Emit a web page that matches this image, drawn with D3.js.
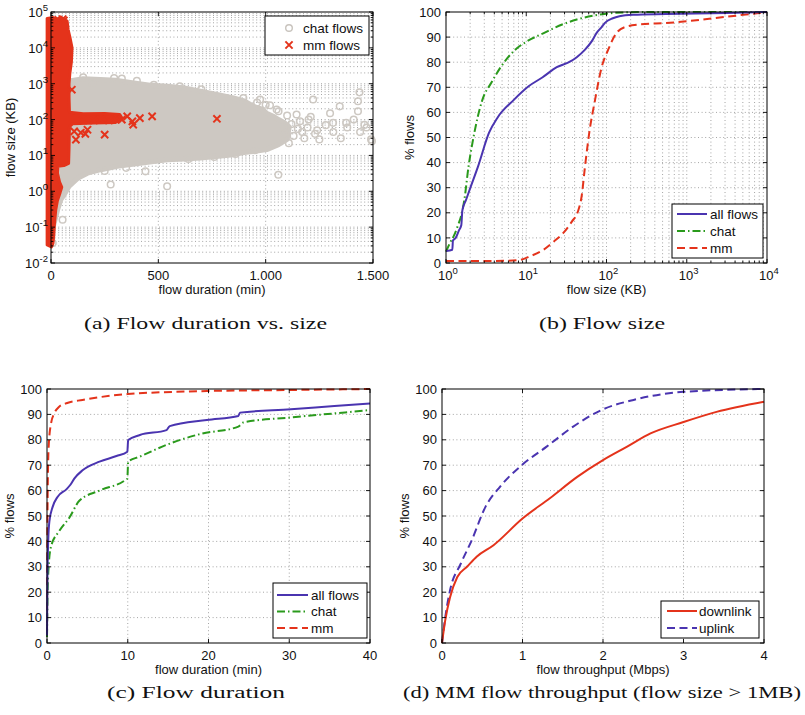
<!DOCTYPE html>
<html><head><meta charset="utf-8">
<script src="https://cdn.jsdelivr.net/npm/d3@7"></script>
<style>body{margin:0;background:#fff}svg{display:block}</style>
</head><body>
<svg id="chart" width="805" height="715"></svg>
<script>
// ---------- DATA ----------
// (a) scatter: flow duration (min) vs flow size (KB)
// dense region outlines (duration, size)
const chatCloudDur  = [85,150,230,300,386,470,541,620,696,773,850,900,943,980,1005,1040,1060,1090,1110,1100,1060,1005,950,900,850,780,696,620,541,433,309,232,170,124,85,62,46,31,23,10,0];
const chatCloudSize = [1200,1380,1320,1250,1050,900,850,760,620,500,400,330,235,200,150,120,100,80,63,28,20,14.5,13,12,10.5,9.5,8.5,8,7.6,6.2,5,4,3.2,2.3,1.4,0.81,0.59,0.31,0.2,0.1,0.05];
const mmBandDur  = [-18,-18,10,30,45,60,75,80,88,98,95,88,84,84,86,150,250,320,330,300,200,100,86,84,82,60,32,30,40,50,42,30,22,16,13,9,2,-18];
const mmBandSize = [0.032,66000,70000,63000,72000,63000,56000,32000,20000,10000,4000,2000,1000,400,160,145,148,138,112,83,80,76,63,16,6,5.2,5,3.2,1.8,1.3,0.9,0.55,0.3,0.12,0.06,0.035,0.028,0.032];
const chatPtDur  = [440,278,541,1059,54,8,294,479,193,1437,1430,1430,1345,1221,1144,1314,1375,1460,1491,1240,1315,1195,1170,1250,896,974,1051,1082,1108,1410,1380,1440,1470,1280,1200,1160,1130,1230,1350,1100,1020,960,1300,700,600,400,330,150,640,760,860,950,350,250,1000,1495,1120,1150,1180,1090,1060,1210];
const chatPtSize = [3.6,1.55,1.38,2.9,0.16,0.036,1450,930,1050,575,324,170,234,363,138,81,81,71,28,50,45,60,45,28,400,363,190,60,22,100,60,45,60,70,100,90,35,40,30,130,250,300,150,700,850,1200,1400,1500,8,9,11,14,4.5,3.7,260,25,75,55,30,40,170,120];
const mmPtDur  = [97,54,35,60,309,355,414,471,383,379,773,250,116,139,170,160,108,300,270,330,200,230,150];
const mmPtSize = [680,63000,60000,58000,110,123,110,123,72,89,105,38,27.5,43,52,40,47,100,95,100,95,100,95];
const aXTicks = [0,500,1000,1500];
const aXTickLabels = ["0","500","1.000","1.500"];
const aYExponents = [-2,-1,0,1,2,3,4,5];

// (b) CDF of flow size (KB)
const sizeAllX  = [1,1.2,1.22,1.32,1.45,1.55,1.6,1.77,2.04,2.51,3.44,4.4,7,10.7,16,24,35.5,42.6,54,66,75,87,95,120,145,214,550,3160,10000];
const sizeAllY  = [4.8,5.3,9,10,13,15,21,25,30.5,38.5,51.9,58,65,70.4,74,78,80.3,82,85,88.5,91.6,94,95.6,97.5,98.3,98.9,99.2,99.6,100];
const sizeChatX = [1,1.12,1.26,1.41,1.55,1.69,1.91,2.14,2.84,3.7,4.8,7.3,10.2,16.5,28,42.6,83,120,316,10000];
const sizeChatY = [4.5,8,11,15,19,25,38.5,48,65,72,78,85,88.3,91.6,95,97,99,99.6,100,100];
const sizeMmX   = [1,3,6,8.5,11.2,16.5,22,29,37,44,49,54,61,72,87,105,133,170,257,550,1000,2290,10000];
const sizeMmY   = [0.8,0.8,0.9,1.3,2.7,5.3,8.5,12,16.5,20.5,26.6,38.5,51.9,65,78,85,91.6,94,95,95.6,96.3,97.6,100];
const bXExponents = [0,1,2,3,4];
const pctTicks = [0,10,20,30,40,50,60,70,80,90,100];
const pctTickLabels = ["0","10","20","30","40","50","60","70","80","90","100"];

// (c) CDF of flow duration (min)
const durAllX  = [0,0.05,0.15,0.3,0.7,1.3,2.4,2.9,3.4,4.4,6.5,8.6,9.95,10.05,11.5,14.8,15.2,19.8,23.7,23.9,30.2,35.6,40];
const durAllY  = [3,25,40,48,53.6,57.5,60.5,62.3,64.8,68,71.4,73.6,75.3,79.9,81.9,83.8,85.4,87.8,89.4,90.7,92,93.3,94.3];
const durChatX = [0,0.05,0.2,0.5,1.5,2.8,4,6.5,9.95,10.05,11.5,14.8,19,23.7,24.3,30.2,35.6,40];
const durChatY = [2.4,15,30,38,44,49.5,56,60,64.8,71.4,73.4,78,82.3,85.2,86.8,88.8,90.4,91.7];
const durMmX   = [0,0.04,0.08,0.2,0.5,0.9,1.5,2.5,4.4,10,19.8,30,40];
const durMmY   = [3,40,57.5,77,86.5,90.4,93,94.5,95.7,98,99.2,99.6,100];
const cXTicks = [0,10,20,30,40];

// (d) CDF of MM flow throughput (Mbps)
const tpDownX = [0,0.04,0.1,0.19,0.31,0.43,0.64,1.0,1.34,1.68,2.0,2.3,2.59,3.0,3.41,4.0];
const tpDownY = [0,8.9,18,26,30,34,38.5,49,57,65.4,72,77.3,82.5,87,91,95];
const tpUpX   = [0,0.04,0.1,0.23,0.37,0.54,0.72,0.99,1.3,1.63,2.0,2.38,3.0,4.0];
const tpUpY   = [0,10,20.8,31,40.5,53.6,61.5,70,77.3,85.2,92,95.7,98.9,100];
const dXTicks = [0,1,2,3,4];
const dYTickLabels = ["0","10","20","30","40","50","60","70","90","90","100"];

const captions = ["(a)  Flow duration vs. size","(b)  Flow size","(c)  Flow duration","(d)  MM flow throughput (flow size > 1MB)"];

// ---------- STYLE ----------
const svg = d3.select('#chart');
const F = "'Liberation Sans', Arial, Helvetica, sans-serif";
const SERIF = "'Liberation Serif', 'DejaVu Serif', serif";
const GRID = '#8e8e8e';
const C_BLUE = '#4a34b0', C_GREEN = '#2a9a1c', C_RED = '#e4331b', C_GRAY = '#cdc8c2';

const P = {
  a:{l:51,r:373,t:12,b:263},
  b:{l:446,r:767,t:12,b:263},
  c:{l:47,r:370,t:389,b:643},
  d:{l:442,r:764,t:389,b:643}
};

function grid(g,p,xs,ys,xv,yv){
  g.append('g').selectAll('line').data(xv).join('line')
    .attr('x1',d=>xs(d)).attr('x2',d=>xs(d)).attr('y1',p.t).attr('y2',p.b)
    .attr('stroke',GRID).attr('stroke-width',0.8).attr('stroke-dasharray','1,2.6');
  g.append('g').selectAll('line').data(yv).join('line')
    .attr('y1',d=>ys(d)).attr('y2',d=>ys(d)).attr('x1',p.l).attr('x2',p.r)
    .attr('stroke',GRID).attr('stroke-width',0.8).attr('stroke-dasharray','1,2.6');
}
function frame(g,p,xs,ys,xMaj,yMaj,xMin,yMin){
  const L=4,l=2.3;
  const tg=g.append('g').attr('stroke','#000').attr('stroke-width',0.9);
  const add=(x1,y1,x2,y2)=>tg.append('line').attr('x1',x1).attr('y1',y1).attr('x2',x2).attr('y2',y2);
  xMaj.forEach(v=>{const x=xs(v);add(x,p.b,x,p.b-L);add(x,p.t,x,p.t+L);});
  yMaj.forEach(v=>{const y=ys(v);add(p.l,y,p.l+L,y);add(p.r,y,p.r-L,y);});
  (xMin||[]).forEach(v=>{const x=xs(v);add(x,p.b,x,p.b-l);add(x,p.t,x,p.t+l);});
  (yMin||[]).forEach(v=>{const y=ys(v);add(p.l,y,p.l+l,y);add(p.r,y,p.r-l,y);});
  g.append('rect').attr('x',p.l).attr('y',p.t).attr('width',p.r-p.l).attr('height',p.b-p.t)
    .attr('fill','none').attr('stroke','#000').attr('stroke-width',1);
}
function yLabels(g,p,ys,vals,labels){
  g.append('g').selectAll('text').data(vals).join('text')
    .attr('x',p.l-5).attr('y',d=>ys(d)).attr('dy','0.36em').attr('text-anchor','end')
    .attr('font-family',F).attr('font-size',13).attr('fill','#111').text((d,i)=>labels[i]);
}
function xLabels(g,p,xs,vals,labels){
  g.append('g').selectAll('text').data(vals).join('text')
    .attr('x',d=>xs(d)).attr('y',p.b+17).attr('text-anchor','middle')
    .attr('font-family',F).attr('font-size',13).attr('fill','#111').text((d,i)=>labels[i]);
}
function powLabel(g,x,y,exp,anchor){
  const t=g.append('text').attr('x',x).attr('y',y).attr('text-anchor',anchor)
    .attr('font-family',F).attr('font-size',13).attr('fill','#111');
  t.append('tspan').text('10');
  t.append('tspan').attr('dy',-6).attr('font-size',9.5).text(exp);
}
function titles(g,p,xt,yt,ytx){
  g.append('text').attr('x',(p.l+p.r)/2).attr('y',p.b+31).attr('text-anchor','middle')
    .attr('font-family',F).attr('font-size',13).attr('fill','#111').text(xt);
  g.append('text').attr('transform',`translate(${ytx},${(p.t+p.b)/2}) rotate(-90)`)
    .attr('text-anchor','middle').attr('font-family',F).attr('font-size',13).attr('fill','#111').text(yt);
}
function legend(g,box,items){
  g.append('rect').attr('x',box.x).attr('y',box.y).attr('width',box.w).attr('height',box.h)
    .attr('fill','#fff').attr('stroke','#000').attr('stroke-width',1);
  items.forEach((it,i)=>{
    const y=box.y0+i*box.dy;
    if(it.kind==='line'){
      g.append('line').attr('x1',box.lx1).attr('x2',box.lx2).attr('y1',y).attr('y2',y)
        .attr('stroke',it.color).attr('stroke-width',2).attr('stroke-dasharray',it.dash||null);
    } else if(it.kind==='circle'){
      g.append('circle').attr('cx',box.mx).attr('cy',y).attr('r',3.3).attr('fill','none')
        .attr('stroke',it.color).attr('stroke-width',1.4);
    } else {
      const s=3.6;
      g.append('path').attr('d',`M${box.mx-s},${y-s}L${box.mx+s},${y+s}M${box.mx-s},${y+s}L${box.mx+s},${y-s}`)
        .attr('stroke',it.color).attr('stroke-width',2);
    }
    g.append('text').attr('x',box.tx).attr('y',y).attr('dy','0.36em').attr('font-family',F)
      .attr('font-size',13.5).attr('fill','#111').text(it.label);
  });
}
function curve(g,xs,ys,X,Y,color,dash){
  const pts=X.map((x,i)=>[xs(x),ys(Y[i])]);
  g.append('path').attr('d',d3.line().curve(d3.curveMonotoneX)(pts))
    .attr('fill','none').attr('stroke',color).attr('stroke-width',2)
    .attr('stroke-dasharray',dash||null).attr('stroke-linejoin','round');
}
function minorLog(e0,e1){const r=[];for(let e=e0;e<e1;e++)for(let k=2;k<=9;k++)r.push(k*Math.pow(10,e));return r;}

// ---------- (a) ----------
{
  const p=P.a, g=svg.append('g');
  const xs=d3.scaleLinear().domain([0,1500]).range([p.l,p.r]);
  const ys=d3.scaleLog().domain([1e-2,1e5]).range([p.b,p.t]);
  const yMaj=aYExponents.map(e=>Math.pow(10,e));
  const yMin=minorLog(-2,5);
  grid(g,p,xs,ys,[500,1000],yMaj.slice(1,-1).concat(yMin));
  // chat cloud
  const cloud=chatCloudDur.map((d,i)=>[xs(d),ys(chatCloudSize[i])]);
  g.append('path').attr('d',d3.line()(cloud)+'Z')
    .attr('fill',C_GRAY).attr('stroke',C_GRAY).attr('stroke-width',5).attr('stroke-linejoin','round');
  g.append('g').selectAll('circle').data(chatPtDur).join('circle')
    .attr('cx',d=>xs(d)).attr('cy',(d,i)=>ys(chatPtSize[i])).attr('r',3.3)
    .attr('fill','none').attr('stroke',C_GRAY).attr('stroke-width',1.5);
  // mm band
  const band=mmBandDur.map((d,i)=>[xs(d),ys(mmBandSize[i])]);
  g.append('path').attr('d',d3.line()(band)+'Z')
    .attr('fill',C_RED).attr('stroke',C_RED).attr('stroke-width',3).attr('stroke-linejoin','round');
  const s=3.6;
  g.append('g').selectAll('path').data(mmPtDur).join('path')
    .attr('d',(d,i)=>{const x=xs(d),y=ys(mmPtSize[i]);return `M${x-s},${y-s}L${x+s},${y+s}M${x-s},${y+s}L${x+s},${y-s}`;})
    .attr('stroke',C_RED).attr('stroke-width',2);
  frame(g,p,xs,ys,aXTicks,yMaj,null,yMin);
  xLabels(g,p,xs,aXTicks,aXTickLabels);
  aYExponents.forEach(e=>powLabel(g,p.l-3,ys(Math.pow(10,e))+5,String(e),'end'));
  titles(g,p,'flow duration (min)','flow size (KB)',15);
  legend(g,{x:265,y:16,w:104,h:39,y0:28,dy:17,mx:289,tx:303},
    [{kind:'circle',color:'#c8c3bd',label:'chat flows'},{kind:'x',color:C_RED,label:'mm flows'}]);
}

// ---------- (b) ----------
{
  const p=P.b, g=svg.append('g');
  const xs=d3.scaleLog().domain([1,1e4]).range([p.l,p.r]);
  const ys=d3.scaleLinear().domain([0,100]).range([p.b,p.t]);
  const xMaj=bXExponents.map(e=>Math.pow(10,e));
  const xMin=minorLog(0,4);
  grid(g,p,xs,ys,xMaj.slice(1,-1).concat(xMin),pctTicks.slice(1,-1));
  curve(g,xs,ys,sizeMmX,sizeMmY,C_RED,'8,4.5');
  curve(g,xs,ys,sizeChatX,sizeChatY,C_GREEN,'8,3,1.5,3');
  curve(g,xs,ys,sizeAllX,sizeAllY,C_BLUE);
  frame(g,p,xs,ys,xMaj,pctTicks,xMin,null);
  yLabels(g,p,ys,pctTicks,pctTickLabels);
  bXExponents.forEach(e=>powLabel(g,xs(Math.pow(10,e))+2,p.b+16.5,String(e),'middle'));
  titles(g,p,'flow size (KB)','% flows',414);
  legend(g,{x:672,y:204,w:91,h:54,y0:214,dy:17,lx1:677,lx2:707,tx:710},
    [{kind:'line',color:C_BLUE,label:'all flows'},{kind:'line',color:C_GREEN,dash:'8,3,1.5,3',label:'chat'},{kind:'line',color:C_RED,dash:'8,4.5',label:'mm'}]);
}

// ---------- (c) ----------
{
  const p=P.c, g=svg.append('g');
  const xs=d3.scaleLinear().domain([0,40]).range([p.l,p.r]);
  const ys=d3.scaleLinear().domain([0,100]).range([p.b,p.t]);
  grid(g,p,xs,ys,cXTicks.slice(1,-1),pctTicks.slice(1,-1));
  curve(g,xs,ys,durMmX,durMmY,C_RED,'8,4.5');
  curve(g,xs,ys,durChatX,durChatY,C_GREEN,'8,3,1.5,3');
  curve(g,xs,ys,durAllX,durAllY,C_BLUE);
  frame(g,p,xs,ys,cXTicks,pctTicks);
  yLabels(g,p,ys,pctTicks,pctTickLabels);
  xLabels(g,p,xs,cXTicks,cXTicks.map(String));
  titles(g,p,'flow duration (min)','% flows',14);
  legend(g,{x:273,y:583,w:94,h:55,y0:595,dy:16.5,lx1:277,lx2:308,tx:311},
    [{kind:'line',color:C_BLUE,label:'all flows'},{kind:'line',color:C_GREEN,dash:'8,3,1.5,3',label:'chat'},{kind:'line',color:C_RED,dash:'8,4.5',label:'mm'}]);
}

// ---------- (d) ----------
{
  const p=P.d, g=svg.append('g');
  const xs=d3.scaleLinear().domain([0,4]).range([p.l,p.r]);
  const ys=d3.scaleLinear().domain([0,100]).range([p.b,p.t]);
  grid(g,p,xs,ys,dXTicks.slice(1,-1),pctTicks.slice(1,-1));
  curve(g,xs,ys,tpUpX,tpUpY,C_BLUE,'8,4.5');
  curve(g,xs,ys,tpDownX,tpDownY,C_RED);
  frame(g,p,xs,ys,dXTicks,pctTicks);
  yLabels(g,p,ys,pctTicks,dYTickLabels);
  xLabels(g,p,xs,dXTicks,dXTicks.map(String));
  titles(g,p,'flow throughput (Mbps)','% flows',409);
  legend(g,{x:661,y:601,w:98,h:37,y0:611,dy:17,lx1:667,lx2:697,tx:699},
    [{kind:'line',color:C_RED,label:'downlink'},{kind:'line',color:C_BLUE,dash:'8,4.5',label:'uplink'}]);
}

// ---------- captions ----------
const capPos = [[84,327,329],[539,665,329],[107,285,698],[403,801,698]];
captions.forEach((c,i)=>{
  const [x0,x1,y]=capPos[i];
  svg.append('text').attr('x',x0).attr('y',y).attr('font-family',SERIF).attr('font-size',17.5)
    .attr('fill','#111').attr('textLength',x1-x0).attr('lengthAdjust','spacingAndGlyphs').text(c);
});
</script>
</body></html>
